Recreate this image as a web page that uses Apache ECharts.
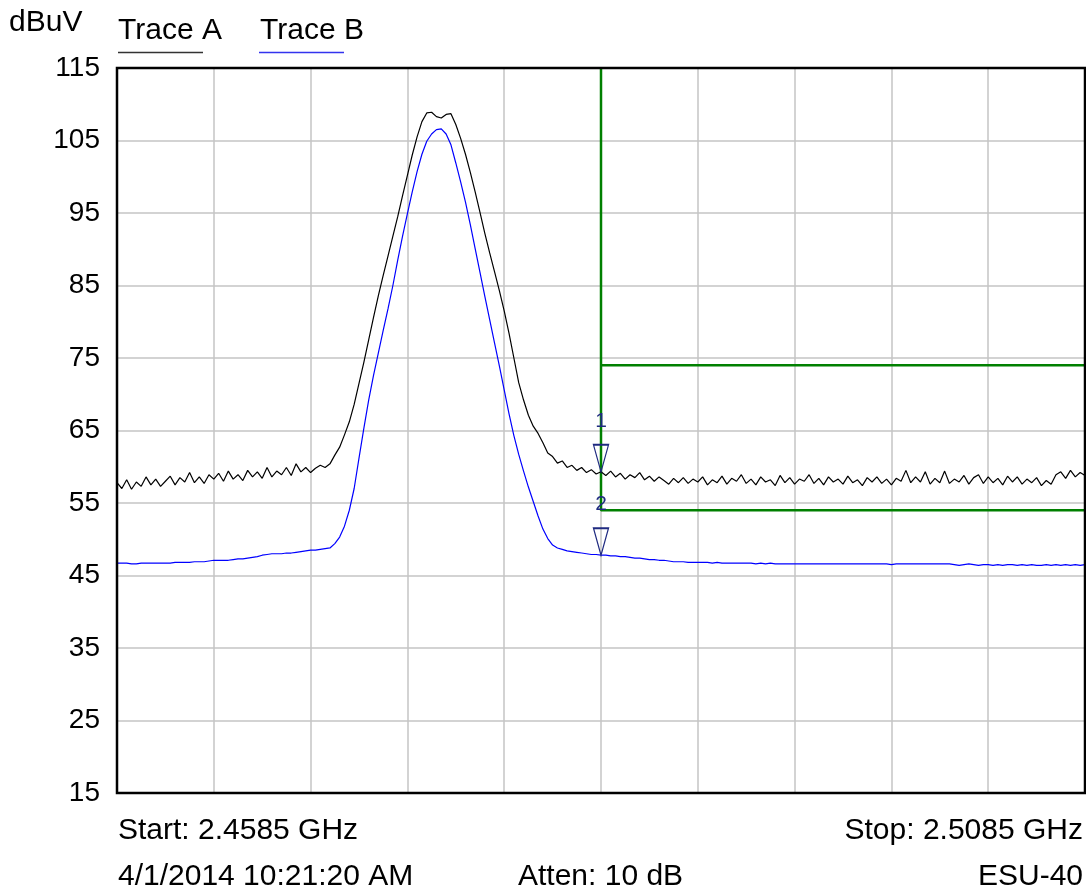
<!DOCTYPE html>
<html>
<head>
<meta charset="utf-8">
<title>Spectrum</title>
<script src="https://cdn.jsdelivr.net/npm/echarts@6/dist/echarts.min.js"></script>
<style>
  html, body { margin: 0; padding: 0; background: #fff; }
  #chart { width: 1086px; height: 895px; }
</style>
</head>
<body>
<div id="chart"></div>
<script>
// sweep: 2.4585 GHz .. 2.5085 GHz, one point every 0.25 MHz (x = MHz from start)
const sweepStep = 0.25
const yTicks = [15, 25, 35, 45, 55, 65, 75, 85, 95, 105, 115]

const traceA = [
  57.8, 57.0, 58.2, 56.9, 57.9, 57.3, 58.6, 57.5, 58.3, 57.3,
  58.0, 58.7, 57.5, 58.5, 57.9, 59.2, 57.8, 58.6, 57.7, 58.9,
  58.3, 59.1, 58.0, 59.4, 58.3, 58.9, 58.1, 59.5, 58.6, 59.3,
  58.4, 59.9, 58.6, 59.4, 58.9, 59.9, 58.8, 60.4, 59.3, 59.9,
  59.2, 59.8, 60.2, 59.9, 60.4, 61.6, 62.7, 64.4, 66.2, 68.6,
  71.5, 74.4, 77.5, 80.6, 83.6, 86.4, 89.1, 91.8, 94.5, 97.4,
  100.2, 103.0, 105.5, 107.6, 108.8, 108.9, 108.3, 108.1, 108.6, 108.7,
  107.2, 105.3, 103.1, 100.6, 97.9, 95.1, 92.2, 89.5, 86.9, 84.3,
  81.5, 78.4, 75.0, 71.6, 69.2, 67.1, 65.6, 64.6, 63.3, 61.9,
  61.4, 60.5, 60.8, 59.9, 60.2, 59.5, 59.9, 59.2, 59.6, 59.0,
  59.3, 58.8, 59.4, 58.6, 59.1, 58.3, 58.9, 58.5, 59.2, 58.2,
  58.7, 58.0, 58.6, 58.1, 57.6, 58.4, 57.8, 58.5, 57.7, 58.3,
  57.9, 58.6, 57.5, 58.2, 57.8, 58.7, 57.6, 58.4, 58.0, 58.9,
  57.7, 58.3, 57.5, 58.6, 57.9, 58.2, 57.4, 58.8, 57.8, 58.5,
  57.6, 58.3, 58.0, 58.9, 57.7, 58.4, 57.5, 58.6, 57.9, 58.3,
  57.6, 58.7, 57.8, 58.2, 57.4, 58.5, 57.9, 58.6, 57.7, 58.3,
  57.5, 58.4, 58.0, 59.5, 57.8, 58.6, 57.9, 59.3, 57.6, 58.4,
  57.8, 59.4, 57.7, 58.3, 57.9, 58.8, 57.6, 58.5, 58.9, 57.7,
  58.6, 57.8, 58.4, 57.5, 58.7, 57.9, 58.6, 57.6, 58.3, 57.8,
  58.5, 57.4, 58.1, 57.6, 58.9, 59.3, 58.4, 59.5, 58.6, 59.2,
  58.8
]

const traceB = [
  46.7, 46.7, 46.7, 46.6, 46.6, 46.7, 46.7, 46.7, 46.7, 46.7,
  46.7, 46.7, 46.8, 46.8, 46.8, 46.8, 46.9, 46.9, 46.9, 47.0,
  47.1, 47.1, 47.1, 47.1, 47.2, 47.3, 47.3, 47.4, 47.5, 47.6,
  47.8, 47.9, 48.0, 48.0, 48.0, 48.1, 48.1, 48.2, 48.3, 48.4,
  48.5, 48.5, 48.6, 48.7, 48.8, 49.4, 50.3, 51.8, 54.0, 57.0,
  61.2, 65.3, 69.2, 72.6, 75.7, 78.8, 81.8, 85.0, 88.5, 91.8,
  94.9, 97.9, 100.7, 103.1, 104.9, 105.9, 106.5, 106.6, 105.9, 104.4,
  101.9, 99.3, 96.5, 93.4, 90.1, 86.8, 83.5, 80.3, 77.1, 73.9,
  70.6, 67.3, 64.3, 61.7, 59.4, 57.2, 55.2, 53.2, 51.4, 50.1,
  49.2, 48.8, 48.6, 48.4, 48.3, 48.2, 48.1, 48.0, 47.9, 47.9,
  47.8, 47.8, 47.7, 47.7, 47.6, 47.6, 47.5, 47.4, 47.4, 47.3,
  47.2, 47.2, 47.1, 47.1, 47.0, 46.9, 46.9, 46.9, 46.8, 46.8,
  46.8, 46.8, 46.8, 46.7, 46.8, 46.7, 46.7, 46.7, 46.7, 46.7,
  46.7, 46.7, 46.6, 46.7, 46.6, 46.7, 46.6, 46.6, 46.6, 46.6,
  46.6, 46.6, 46.6, 46.6, 46.6, 46.6, 46.6, 46.6, 46.6, 46.6,
  46.6, 46.6, 46.6, 46.6, 46.6, 46.6, 46.6, 46.6, 46.6, 46.6,
  46.5, 46.6, 46.6, 46.6, 46.6, 46.6, 46.6, 46.6, 46.6, 46.6,
  46.6, 46.6, 46.6, 46.5, 46.4, 46.5, 46.6, 46.5, 46.4, 46.5,
  46.5, 46.4, 46.5, 46.4, 46.5, 46.5, 46.4, 46.5, 46.4, 46.5,
  46.4, 46.4, 46.5, 46.4, 46.5, 46.4, 46.5, 46.4, 46.5, 46.4,
  46.5
]

// limit lines (x in MHz from start, y in dBuV)
const limitUpper = [[25, 115], [25, 54], [50, 54]]
const limitMid = [[25, 74], [50, 74]]

// markers: index into the traces
const markerIndex = 100

const font = 'Liberation Sans, Arial, sans-serif'
const navy = '#1f2a80'

const toPoints = arr => arr.map((v, i) => [i * sweepStep, v])

const markerStyle = label => ({
  symbol: 'path://M0,0L2,0L1,4Z',
  symbolSize: [15, 27],
  symbolOffset: [0, '-50%'],
  itemStyle: { color: 'rgba(0,0,0,0)', borderColor: navy, borderWidth: 1.5 },
  label: {
    show: true,
    formatter: label,
    position: 'top',
    distance: 12,
    color: navy,
    fontSize: 21,
    fontFamily: font
  }
})

const chart = echarts.init(document.getElementById('chart'))

chart.setOption({
  animation: false,
  backgroundColor: '#fff',
  grid: {
    show: true,
    left: 117,
    right: 1,
    top: 68,
    bottom: 102,
    borderColor: '#000',
    borderWidth: 2.5,
    z: 5
  },
  xAxis: {
    type: 'value',
    min: 0,
    max: 50,
    interval: 5,
    axisLine: { show: false },
    axisTick: { show: false },
    axisLabel: { show: false },
    splitLine: { lineStyle: { color: '#c4c4c4', width: 1.5 } }
  },
  yAxis: {
    type: 'value',
    min: yTicks[0],
    max: yTicks[yTicks.length - 1],
    interval: 10,
    axisLine: { show: false },
    axisTick: { show: false },
    axisLabel: { color: '#000', fontSize: 28, fontFamily: font, margin: 17 },
    splitLine: { lineStyle: { color: '#c4c4c4', width: 1.5 } }
  },
  series: [
    {
      type: 'line',
      data: limitUpper,
      symbol: 'none',
      lineStyle: { color: '#008000', width: 2.5 },
      z: 2
    },
    {
      type: 'line',
      data: limitMid,
      symbol: 'none',
      lineStyle: { color: '#008000', width: 2.5 },
      z: 2
    },
    {
      name: 'Trace A',
      type: 'line',
      data: toPoints(traceA),
      symbol: 'none',
      lineStyle: { color: '#000', width: 1.2 },
      z: 3,
      markPoint: {
        data: [{ coord: [markerIndex * sweepStep, traceA[markerIndex]], ...markerStyle('1') }]
      }
    },
    {
      name: 'Trace B',
      type: 'line',
      data: toPoints(traceB),
      symbol: 'none',
      lineStyle: { color: '#0000ff', width: 1.2 },
      z: 3,
      markPoint: {
        data: [{ coord: [markerIndex * sweepStep, traceB[markerIndex]], ...markerStyle('2') }]
      }
    }
  ],
  graphic: [
    { type: 'text', left: 9, top: 8, style: { text: 'dBuV', font: '30px ' + font, fill: '#000' } },
    { type: 'text', left: 118, top: 16, style: { text: 'Trace A', font: '30px ' + font, fill: '#000' } },
    { type: 'line', shape: { x1: 118, y1: 52.5, x2: 203, y2: 52.5 }, style: { stroke: '#333', lineWidth: 1.5 } },
    { type: 'text', left: 260, top: 16, style: { text: 'Trace B', font: '30px ' + font, fill: '#000' } },
    { type: 'line', shape: { x1: 259, y1: 52.5, x2: 344, y2: 52.5 }, style: { stroke: '#3333ee', lineWidth: 1.5 } },
    { type: 'text', left: 118, top: 816, style: { text: 'Start: 2.4585 GHz', font: '30px ' + font, fill: '#000' } },
    { type: 'text', right: 3, top: 816, style: { text: 'Stop: 2.5085 GHz', font: '30px ' + font, fill: '#000' } },
    { type: 'text', left: 118, top: 862, style: { text: '4/1/2014 10:21:20 AM', font: '30px ' + font, fill: '#000' } },
    { type: 'text', left: 518, top: 862, style: { text: 'Atten: 10 dB', font: '30px ' + font, fill: '#000' } },
    { type: 'text', right: 3, top: 862, style: { text: 'ESU-40', font: '30px ' + font, fill: '#000' } }
  ]
})
</script>
</body>
</html>
